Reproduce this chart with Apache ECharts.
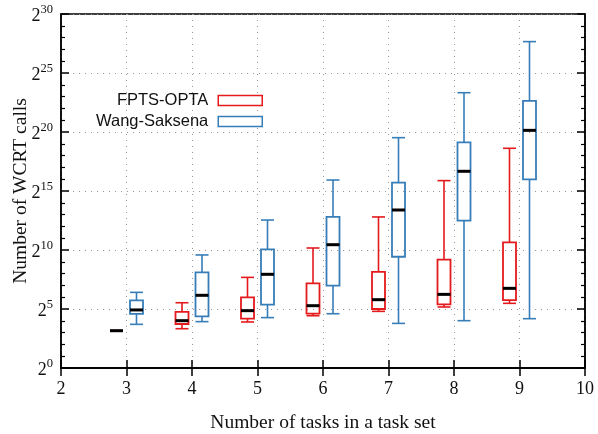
<!DOCTYPE html>
<html>
<head>
<meta charset="utf-8">
<script src="https://cdn.jsdelivr.net/npm/echarts@6/dist/echarts.min.js"></script>
<style>
  html, body { margin: 0; padding: 0; background: #fff; }
  #chart { width: 598px; height: 434px; }
</style>
</head>
<body>
<div id="chart"></div>
<script>
// Number of tasks per task set (x positions of the box groups)
const taskCounts = [3, 4, 5, 6, 7, 8, 9];

// FPTS-OPTA: log2 of the number of WCRT calls (min, Q1, median, Q3, max)
const optaMin = [3.16, 3.33, 3.90, 4.43, 4.80, 5.17, 5.48];
const optaQ1  = [3.16, 3.73, 4.18, 4.60, 5.00, 5.40, 5.76];
const optaMed = [3.16, 4.01, 4.86, 5.28, 5.79, 6.24, 6.75];
const optaQ3  = [3.16, 4.75, 5.99, 7.18, 8.14, 9.18, 10.65];
const optaMax = [3.16, 5.53, 7.68, 10.17, 12.80, 15.88, 18.62];

// Wang-Saksena: log2 of the number of WCRT calls (min, Q1, median, Q3, max)
const wangMin = [3.70, 3.93, 4.27, 4.60, 3.78, 4.01, 4.18];
const wangQ1  = [4.58, 4.38, 5.37, 6.98, 9.43, 12.49, 15.99];
const wangMed = [4.92, 6.16, 7.94, 10.45, 13.39, 16.67, 20.14];
const wangQ3  = [5.73, 8.11, 10.06, 12.80, 15.71, 19.12, 22.63];
const wangMax = [6.41, 9.58, 12.54, 15.93, 19.52, 23.33, 27.66];

// Axis tick values
const xTicks = [2, 3, 4, 5, 6, 7, 8, 9, 10];
const yExponents = [0, 5, 10, 15, 20, 25, 30];

const seriesNames = ['FPTS-OPTA', 'Wang-Saksena'];
const seriesColors = ['#e41a1c', '#377eb8'];

function rows(mins, q1s, meds, q3s, maxs) {
  return taskCounts.map((t, i) => [t, mins[i], q1s[i], meds[i], q3s[i], maxs[i]]);
}

const BOX_W = 13;      // box width in px
const BOX_SHIFT = 10;  // horizontal shift of each series from the tick, px

function makeRenderer(color, shift) {
  return function (params, api) {
    const x = api.value(0);
    const cx = api.coord([x, 0])[0] + shift;
    const yMin = api.coord([x, api.value(1)])[1];
    const yQ1  = api.coord([x, api.value(2)])[1];
    const yMed = api.coord([x, api.value(3)])[1];
    const yQ3  = api.coord([x, api.value(4)])[1];
    const yMax = api.coord([x, api.value(5)])[1];
    const h = BOX_W / 2;
    const ls = { stroke: color, lineWidth: 1.6, fill: null };
    return {
      type: 'group',
      children: [
        { type: 'line', shape: { x1: cx, y1: yQ1, x2: cx, y2: yMin }, style: ls },
        { type: 'line', shape: { x1: cx, y1: yQ3, x2: cx, y2: yMax }, style: ls },
        { type: 'line', shape: { x1: cx - h, y1: yMin, x2: cx + h, y2: yMin }, style: ls },
        { type: 'line', shape: { x1: cx - h, y1: yMax, x2: cx + h, y2: yMax }, style: ls },
        { type: 'rect', shape: { x: cx - h, y: yQ3, width: BOX_W, height: yQ1 - yQ3 }, style: { stroke: color, lineWidth: 1.8, fill: 'rgba(255,255,255,0)' } },
        { type: 'line', shape: { x1: cx - h, y1: yMed, x2: cx + h, y2: yMed }, style: { stroke: '#000', lineWidth: 3 } }
      ]
    };
  };
}

const serif = '"Liberation Serif", "DejaVu Serif", serif';
const axisLineStyle = { color: '#000', width: 1.5 };

const chart = echarts.init(document.getElementById('chart'));
chart.setOption({
  animation: false,
  backgroundColor: '#fff',
  grid: { left: 61, right: 13, top: 14, bottom: 66, outerBoundsMode: 'none', containLabel: false,
    show: true, borderColor: '#000', borderWidth: 1.5, backgroundColor: 'transparent' },
  legend: {
    orient: 'vertical',
    align: 'right',
    right: 330,
    top: 87,
    itemWidth: 44,
    itemHeight: 10,
    itemGap: 4,
    selectedMode: false,
    textStyle: { fontFamily: '"Liberation Sans", Arial, sans-serif', fontSize: 16.5, color: '#111', lineHeight: 16, padding: [0, 5, 0, 0] },
    data: seriesNames.map((n, i) => ({
      name: n,
      icon: 'rect',
      itemStyle: { color: '#fff', borderColor: seriesColors[i], borderWidth: 1.5 }
    }))
  },
  xAxis: [{
    type: 'value', min: 2, max: 10, interval: 1,
    name: 'Number of tasks in a task set',
    nameLocation: 'middle', nameGap: 45, nameMoveOverlap: false,
    nameTextStyle: { fontFamily: serif, fontSize: 19.5, color: '#111' },
    axisLine: { show: true, lineStyle: axisLineStyle },
    axisTick: { show: true, inside: true, length: 8, lineStyle: axisLineStyle },
    axisLabel: { fontFamily: serif, fontSize: 18, color: '#111', margin: 12,
      formatter: v => xTicks.includes(v) ? String(v) : '' },
    splitLine: { show: true, lineStyle: { color: '#999', type: [1, 5], width: 1 } }
  }, {
    type: 'value', min: 2, max: 10, interval: 1, position: 'top',
    axisLine: { show: true, lineStyle: axisLineStyle },
    axisTick: { show: true, inside: true, length: 8, lineStyle: axisLineStyle },
    axisLabel: { show: false }, splitLine: { show: false }
  }],
  yAxis: [{
    type: 'value', min: 0, max: 30, interval: 5,
    name: 'Number of WCRT calls',
    nameLocation: 'middle', nameGap: 30, nameRotate: 90, nameMoveOverlap: false,
    nameTextStyle: { fontFamily: serif, fontSize: 19.5, color: '#111' },
    axisLine: { show: true, lineStyle: axisLineStyle },
    axisTick: { show: true, inside: true, length: 8, lineStyle: axisLineStyle },
    minorTick: { show: true, splitNumber: 5, length: 4, lineStyle: { color: '#000', width: 1.2 } },
    axisLabel: {
      margin: 8,
      formatter: v => yExponents.includes(v) ? '{b|2}{s|' + v + '}' : '',
      rich: {
        b: { fontFamily: serif, fontSize: 18, color: '#111', verticalAlign: 'bottom', lineHeight: 22 },
        s: { fontFamily: serif, fontSize: 12.5, color: '#111', verticalAlign: 'top', lineHeight: 22 }
      }
    },
    splitLine: { show: true, lineStyle: { color: '#999', type: [1, 5], width: 1 } }
  }, {
    type: 'value', min: 0, max: 30, interval: 5, position: 'right',
    axisLine: { show: true, lineStyle: axisLineStyle },
    axisTick: { show: true, inside: true, length: 8, lineStyle: axisLineStyle },
    minorTick: { show: true, splitNumber: 5, length: 4, lineStyle: { color: '#000', width: 1.2 } },
    axisLabel: { show: false }, splitLine: { show: false }
  }],
  series: [
    {
      name: seriesNames[0], type: 'custom', xAxisIndex: 0, yAxisIndex: 0,
      itemStyle: { color: seriesColors[0] },
      renderItem: makeRenderer(seriesColors[0], -BOX_SHIFT),
      encode: { x: 0, y: [1, 2, 3, 4, 5] },
      data: rows(optaMin, optaQ1, optaMed, optaQ3, optaMax)
    },
    {
      name: seriesNames[1], type: 'custom', xAxisIndex: 0, yAxisIndex: 0,
      itemStyle: { color: seriesColors[1] },
      renderItem: makeRenderer(seriesColors[1], BOX_SHIFT),
      encode: { x: 0, y: [1, 2, 3, 4, 5] },
      data: rows(wangMin, wangQ1, wangMed, wangQ3, wangMax)
    }
  ]
});
</script>
</body>
</html>
